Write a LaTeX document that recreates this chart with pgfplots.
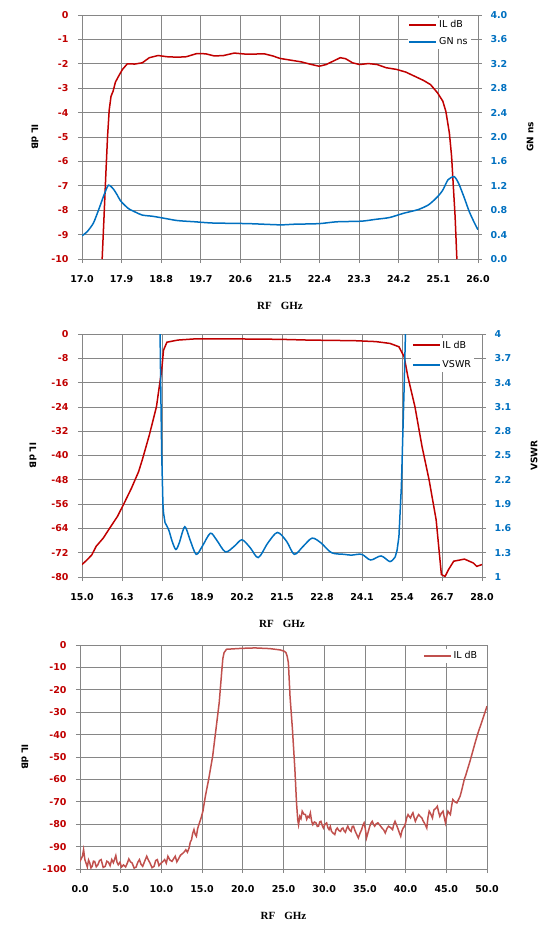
\documentclass[border=0pt]{standalone}
\usepackage{fontspec}
\setmainfont{DejaVu Sans}
\newfontfamily\rfserif{Liberation Serif}
\usepackage{pgfplots}
\pgfplotsset{compat=1.18}
\definecolor{ilred}{HTML}{C00000}
\definecolor{gnblue}{HTML}{0070C0}
\definecolor{ilred3}{HTML}{C0504D}
\definecolor{gridgray}{HTML}{868686}
\newcommand{\tickfont}{\fontsize{9.5bp}{11bp}\selectfont\bfseries}
\newcommand{\labfont}{\fontsize{9bp}{11bp}\selectfont\bfseries}
\newcommand{\legfont}{\fontsize{9.5bp}{11bp}\selectfont}
\newcommand{\rffont}{\fontsize{11bp}{13bp}\selectfont\rfserif\bfseries}
\pgfplotsset{
  base/.style={
    scale only axis, clip=true,
    axis line style={gridgray, line width=0.8bp},
    tick style={gridgray, line width=0.8bp},
    tick align=outside, major tick length=4bp,
    ticklabel style={font=\tickfont},
    /pgf/number format/assume math mode=true,
    xticklabel style={yshift=-9bp},
  },
  myleg/.style={
    legend style={draw=none, fill=white, font=\legfont, inner xsep=1bp, inner ysep=1bp, anchor=north west, cells={anchor=west}},
    legend image code/.code={\draw[##1] (0bp,0bp) -- (27bp,0bp);},
  },
  leftax/.style={base, myleg, grid=major, major grid style={gridgray, line width=0.8bp},
    tick pos=left,
    yticklabel style={xshift=-6bp, text=ilred},
    every axis x label/.style={at={(axis description cs:0.5,0)}, yshift=-47bp, anchor=center, font=\rffont},
    every axis y label/.style={at={(axis description cs:0,0.5)}, xshift=-#1, anchor=center, rotate=-90, font=\labfont},
  },
  rightax/.style={base, axis x line=none, axis y line*=right, ytick pos=right,
    yticklabel style={xshift=5bp, text=gnblue},
    every axis y label/.style={at={(axis description cs:1,0.5)}, xshift=52bp, anchor=center, rotate=90, font=\labfont},
  },
}
\begin{document}
\begin{tikzpicture}
\useasboundingbox (0,0) rectangle (555bp,-943bp);
% ---------------- chart 1 ----------------
\begin{axis}[leftax=47bp, at={(82bp,-259bp)}, anchor=south west, width=396bp, height=244bp,
  xmin=17, xmax=26, ymin=-10, ymax=0,
  xtick={17.0,17.9,18.8,19.7,20.6,21.5,22.4,23.3,24.2,25.1,26.0},
  xticklabels={17.0,17.9,18.8,19.7,20.6,21.5,22.4,23.3,24.2,25.1,26.0},
  ytick={-10,-9,...,0},
  ylabel={IL dB},
  xlabel={RF\hspace{9bp}GHz},
  legend style={at={(0.822,0.99)}, row sep=4.5bp}]
\addplot[ilred, line width=1.5bp] coordinates {
(17.458,-10) (17.50,-8.3) (17.54,-6.6) (17.58,-5.0) (17.619,-3.88) (17.66,-3.33) (17.707,-3.12)
(17.76,-2.75) (17.84,-2.48) (17.92,-2.23) (18.03,-2.0) (18.2,-2.01) (18.37,-1.96)
(18.53,-1.75) (18.73,-1.66) (18.93,-1.71) (19.17,-1.73) (19.37,-1.71) (19.61,-1.58)
(19.81,-1.59) (20.01,-1.68) (20.22,-1.66) (20.46,-1.56) (20.70,-1.60) (20.94,-1.60)
(21.14,-1.59) (21.34,-1.68) (21.50,-1.78) (21.74,-1.85) (21.98,-1.92) (22.22,-2.03)
(22.39,-2.10) (22.55,-2.03) (22.71,-1.89) (22.87,-1.75) (22.99,-1.79) (23.15,-1.96)
(23.31,-2.03) (23.51,-1.99) (23.71,-2.03) (23.91,-2.16) (24.15,-2.23) (24.36,-2.34)
(24.56,-2.51) (24.76,-2.68) (24.92,-2.85) (25.08,-3.19) (25.20,-3.53) (25.27,-3.95)
(25.35,-4.84) (25.40,-5.79) (25.44,-7.03) (25.48,-8.26) (25.52,-10)
};
\addlegendentry{IL dB}
\addlegendimage{gnblue, line width=1.5bp}
\addlegendentry{GN ns}
\end{axis}
\begin{axis}[rightax, at={(82bp,-259bp)}, anchor=south west, width=396bp, height=244bp,
  xmin=17, xmax=26, ymin=0, ymax=4,
  ytick={0,0.4,...,4.01},
  yticklabel style={/pgf/number format/.cd, fixed, fixed zerofill, precision=1},
  ylabel={GN ns}]
\addplot[gnblue, line width=1.5bp, smooth, tension=0.4] coordinates {
(17.0,0.38) (17.12,0.45) (17.26,0.59) (17.39,0.83) (17.50,1.05) (17.60,1.21) (17.71,1.15)
(17.80,1.05) (17.88,0.95) (18.05,0.83) (18.21,0.77) (18.37,0.72) (18.61,0.70) (18.85,0.67)
(19.17,0.63) (19.57,0.61) (19.97,0.59) (20.78,0.58) (21.50,0.56) (21.82,0.57) (22.39,0.58)
(22.79,0.61) (23.35,0.62) (23.67,0.65) (23.99,0.68) (24.31,0.75) (24.64,0.81) (24.88,0.89)
(25.08,1.02) (25.20,1.13) (25.32,1.30) (25.46,1.35) (25.56,1.24) (25.68,1.02) (25.80,0.78)
(25.92,0.59) (26.0,0.48)
};
\end{axis}
% ---------------- chart 2 ----------------
\begin{axis}[leftax=49bp, at={(82bp,-577bp)}, anchor=south west, width=400bp, height=243bp,
  xmin=15, xmax=28, ymin=-80, ymax=0,
  xtick={15.0,16.3,17.6,18.9,20.2,21.5,22.8,24.1,25.4,26.7,28.0},
  xticklabels={15.0,16.3,17.6,18.9,20.2,21.5,22.8,24.1,25.4,26.7,28.0},
  ytick={-80,-72,...,0},
  ylabel={IL dB},
  xlabel={RF\hspace{9bp}GHz},
  legend style={at={(0.822,0.985)}, row sep=7bp}]
\addplot[ilred, line width=1.5bp] coordinates {
(15.0,-75.9) (15.17,-74.3) (15.32,-72.7) (15.46,-69.9) (15.69,-67.2) (15.92,-63.6)
(16.15,-60.1) (16.38,-55.5) (16.61,-50.7) (16.84,-45.3) (16.96,-41.4) (17.19,-33.2)
(17.42,-23.9) (17.59,-11.8) (17.65,-5.3) (17.76,-2.7) (18.11,-2.0) (18.68,-1.6)
(19.83,-1.6) (21.44,-1.75) (22.36,-2.0) (23.86,-2.2) (24.55,-2.5) (25.01,-3.1)
(25.30,-4.2) (25.47,-7.5) (25.59,-14.0) (25.82,-23.9) (26.05,-37.0) (26.28,-48.0)
(26.51,-61.2) (26.68,-79.2) (26.80,-79.8) (26.91,-77.6) (27.08,-74.8) (27.43,-74.1)
(27.72,-75.4) (27.83,-76.5) (28.0,-75.9)
};
\addlegendentry{IL dB}
\addlegendimage{legend image code/.code={\draw[gnblue, line width=1.5bp] (0bp,0bp) -- (27bp,0bp);}}
\addlegendentry{VSWR}
\end{axis}
\begin{axis}[rightax, at={(82bp,-577bp)}, anchor=south west, width=400bp, height=243bp,
  xmin=15, xmax=28, ymin=1, ymax=4,
  ytick={1,1.3,1.6,1.9,2.2,2.5,2.8,3.1,3.4,3.7,4},
  yticklabels={1,1.3,1.6,1.9,2.2,2.5,2.8,3.1,3.4,3.7,4},
  ylabel={VSWR}]
\addplot[gnblue, line width=1.5bp] coordinates {
(17.52,4.6) (17.55,3.6) (17.59,2.53) (17.63,1.90) (17.65,1.79) (17.70,1.67)
};
\addplot[gnblue, line width=1.5bp, smooth, tension=0.5] coordinates {
(17.70,1.67) (17.82,1.58) (17.93,1.44)
(18.05,1.34) (18.16,1.42) (18.34,1.62) (18.51,1.46) (18.71,1.28) (18.91,1.38) (19.17,1.54)
(19.37,1.46) (19.66,1.31) (19.95,1.38) (20.20,1.46) (20.47,1.36) (20.73,1.24) (21.04,1.42)
(21.35,1.55) (21.65,1.44) (21.90,1.28) (22.19,1.38) (22.48,1.48) (22.77,1.42) (23.11,1.30)
(23.52,1.28) (23.75,1.27) (24.09,1.28) (24.38,1.21) (24.72,1.26) (25.01,1.19) (25.18,1.25)
};
\addplot[gnblue, line width=1.5bp] coordinates {
(25.18,1.25) (25.24,1.33) (25.30,1.50) (25.38,2.12) (25.47,3.35) (25.55,4.6)
};
\end{axis}
% ---------------- chart 3 ----------------
\begin{axis}[leftax=55bp, at={(80bp,-869bp)}, anchor=south west, width=407bp, height=224bp,
  xmin=0, xmax=50, ymin=-100, ymax=0,
  xtick={0,5,...,50},
  xticklabel style={/pgf/number format/.cd, fixed, fixed zerofill, precision=1},
  ytick={-100,-90,...,0},
  ylabel={IL dB},
  xlabel={RF\hspace{9bp}GHz},
  legend style={at={(0.84,0.985)}}]
\addplot[ilred3, line width=1.5bp] coordinates {
(0,-96.6) (0.2,-95.0) (0.3,-94.3) (0.44,-91.4) (0.6,-95.8) (0.75,-97.5) (0.9,-99.1) (1.05,-96.0)
(1.2,-97.3) (1.35,-99.5) (1.5,-98.8) (1.65,-96.5) (1.8,-96.6) (2.0,-99.0) (2.2,-98.1) (2.4,-96.2)
(2.6,-95.8) (2.85,-99.3) (3.1,-98.8) (3.3,-96.5) (3.5,-97.0) (3.7,-98.5) (3.9,-95.8) (4.1,-97.2)
(4.4,-94.0) (4.55,-97.0) (4.7,-98.1) (4.9,-97.0) (5.1,-99.1) (5.35,-98.2) (5.6,-99.1) (5.8,-97.5)
(6.0,-95.5) (6.2,-96.8) (6.4,-97.3) (6.65,-99.6) (6.9,-99.1) (7.1,-97.0) (7.3,-95.8) (7.5,-97.9)
(7.7,-98.8) (7.95,-96.5) (8.2,-94.3) (8.4,-96.0) (8.6,-97.3) (8.85,-99.4) (9.1,-98.8) (9.3,-96.2)
(9.5,-95.8) (9.7,-98.5) (9.9,-97.6) (10.15,-96.8) (10.4,-95.8) (10.6,-97.4) (10.8,-94.3) (11.05,-96.0)
(11.3,-96.6) (11.5,-95.4) (11.7,-94.3) (11.9,-96.8) (12.1,-95.5) (12.35,-93.8) (12.6,-93.1) (12.8,-92.4)
(13.0,-91.4) (13.2,-92.5) (13.4,-90.6) (13.55,-88.0) (13.7,-86.9) (13.85,-84.0) (14.0,-82.4) (14.15,-84.5)
(14.3,-85.4) (14.45,-82.0) (14.6,-80.2) (14.85,-77.5) (15.1,-74.2) (15.4,-67.5) (15.8,-60.1) (16.3,-49.6)
(16.7,-37.7) (17.1,-25.8) (17.4,-12.4) (17.55,-6.0) (17.7,-3.4) (18.0,-1.9) (19.8,-1.5) (21.5,-1.3)
(23.3,-1.6) (24.6,-2.2) (25.1,-2.8) (25.3,-3.4) (25.45,-5.0) (25.6,-7.9) (25.8,-22.8) (26.1,-37.7)
(26.4,-55.6) (26.6,-70.5) (26.75,-78.0) (26.85,-80.2) (27.0,-76.5) (27.15,-77.5) (27.3,-74.2) (27.5,-75.5)
(27.7,-75.7) (27.85,-77.8) (28.0,-76.5) (28.15,-77.0) (28.3,-75.0) (28.45,-78.5) (28.6,-80.2) (28.8,-79.0)
(29.0,-79.4) (29.15,-81.0) (29.3,-80.9) (29.45,-79.0) (29.6,-78.7) (29.75,-80.5) (29.9,-81.7) (30.1,-80.0)
(30.3,-79.4) (30.45,-81.5) (30.6,-82.4) (30.75,-81.0) (30.9,-83.2) (31.1,-84.0) (31.3,-84.6) (31.45,-82.5)
(31.6,-81.7) (31.8,-82.8) (32.0,-83.2) (32.15,-82.0) (32.3,-81.7) (32.45,-83.0) (32.6,-83.6) (32.75,-82.0)
(32.9,-80.9) (33.1,-82.5) (33.3,-83.2) (33.45,-81.0) (33.6,-80.9) (33.75,-82.6) (33.9,-83.9) (34.05,-85.0)
(34.2,-86.1) (34.4,-84.0) (34.6,-82.4) (34.75,-80.5) (34.9,-79.4) (35.05,-82.0) (35.2,-86.1) (35.4,-83.5)
(35.6,-80.9) (35.75,-79.5) (35.9,-78.7) (36.05,-80.0) (36.2,-80.9) (36.4,-79.8) (36.6,-79.4) (36.85,-80.5)
(37.1,-81.7) (37.3,-82.5) (37.5,-83.9) (37.7,-82.0) (37.9,-80.9) (38.15,-81.5) (38.4,-82.4) (38.55,-80.0)
(38.7,-78.7) (38.9,-80.5) (39.1,-82.4) (39.25,-84.0) (39.4,-85.4) (39.55,-83.0) (39.7,-81.7) (39.85,-81.0)
(40.0,-79.4) (40.15,-77.0) (40.3,-75.7) (40.45,-76.5) (40.6,-77.2) (40.75,-75.8) (40.9,-74.9) (41.05,-77.0)
(41.2,-78.7) (41.4,-77.0) (41.6,-75.7) (41.8,-76.5) (42.0,-77.2) (42.15,-78.5) (42.3,-79.4) (42.45,-80.5)
(42.6,-81.7) (42.75,-77.0) (42.9,-74.2) (43.1,-75.5) (43.3,-77.2) (43.4,-75.0) (43.5,-73.5) (43.7,-73.0)
(43.9,-72.0) (44.05,-74.5) (44.2,-76.5) (44.4,-75.0) (44.6,-74.2) (44.75,-77.0) (44.9,-79.4) (45.05,-76.5)
(45.2,-74.2) (45.35,-75.0) (45.5,-75.7) (45.65,-72.0) (45.8,-69.0) (46.05,-70.0) (46.3,-70.5) (46.5,-69.0)
(46.7,-67.5) (46.95,-64.0) (47.2,-60.1) (47.4,-58.0) (47.6,-55.6) (47.9,-52.0) (48.2,-48.1) (48.55,-43.5)
(48.9,-39.2) (49.25,-35.5) (49.6,-31.7) (50.0,-27.3)
};
\addlegendentry{IL dB}
\end{axis}
\end{tikzpicture}
\end{document}
